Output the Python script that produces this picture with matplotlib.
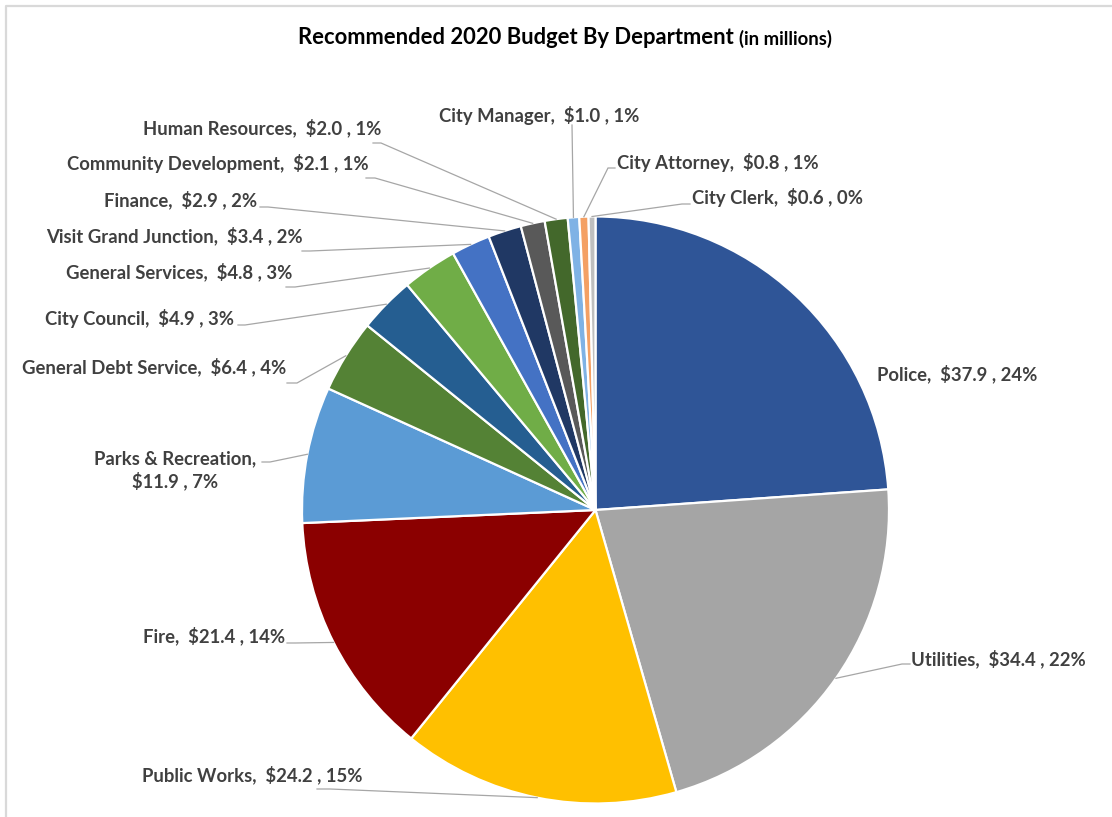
import numpy as np
import matplotlib.pyplot as plt

W, H = 1112, 817

# Budget by department, in millions of dollars
departments = ['Police', 'Utilities', 'Public Works', 'Fire', 'Parks & Recreation',
               'General Debt Service', 'City Council', 'General Services',
               'Visit Grand Junction', 'Finance', 'Community Development',
               'Human Resources', 'City Manager', 'City Attorney', 'City Clerk']
budget = [37.9, 34.4, 24.2, 21.4, 11.9, 6.4, 4.9, 4.8, 3.4, 2.9, 2.1, 2.0, 1.0, 0.8, 0.6]
share_pct = [24, 22, 15, 14, 7, 4, 3, 3, 2, 2, 1, 1, 1, 1, 0]

colors = ['#2F5597', '#A5A5A5', '#FFC000', '#8B0000', '#5B9BD5', '#548235', '#255E91',
          '#70AD47', '#4472C4', '#203864', '#595959', '#43682B', '#7FB2E5', '#F4A064',
          '#BFBFBF']

# label layout in pixels from the top-left: text x, text y, alignment,
# leader elbow point and leader tip (None -> no leader)
label_layout = [
    (877, 374, 'left', None, None),
    (911, 659, 'left', (902, 664), (910, 664)),
    (362, 775, 'right', (330, 789), (317, 789)),
    (285, 636, 'right', (295, 643), (287, 643)),
    (175, 470, 'center', (270, 462), (262, 462)),
    (286, 367, 'right', (297, 383), (287, 383)),
    (234, 318, 'right', (245, 325), (238, 325)),
    (292, 272, 'right', (295, 287), (286, 287)),
    (303, 236, 'right', (310, 251), (302, 251)),
    (257, 200, 'right', (268, 207), (260, 207)),
    (369, 163, 'right', (375, 178), (366, 178)),
    (381, 128, 'right', (381, 143), (373, 143)),
    (539, 115, 'center', (572, 125), (572, 125)),
    (617, 162, 'left', (608, 168), (615, 168)),
    (692, 197, 'left', (682, 204), (690, 204)),
]

cx, cy, r = 595.5, H - 510, 293.5

plt.rcParams['font.family'] = ['Lato', 'DejaVu Sans']
fig = plt.figure(figsize=(W / 100, H / 100), dpi=100)
ax = fig.add_axes([0, 0, 1, 1])

wedges, _ = ax.pie(budget, colors=colors, startangle=90, counterclock=False,
                   center=(cx, cy), radius=r,
                   wedgeprops=dict(edgecolor='white', linewidth=1.6))
ax.set_xlim(0, W)
ax.set_ylim(0, H)
ax.set_aspect('equal')
ax.axis('off')

text_color = '#404040'
for w, name, val, pct, (tx, ty, ha, elbow, tip) in zip(
        wedges, departments, budget, share_pct, label_layout):
    if name == 'Parks & Recreation':
        label = f'{name},\n${val:.1f} , {pct}%'
    else:
        label = f'{name},  ${val:.1f} , {pct}%'
    ax.text(tx, H - ty, label, ha=ha, va='center', fontsize=13.3, fontweight='bold',
            color=text_color, multialignment='center', linespacing=1.3)
    if elbow is None:
        continue
    mid = np.deg2rad((w.theta1 + w.theta2) / 2)
    ex, ey = cx + r * np.cos(mid), cy + r * np.sin(mid)
    ax.plot([ex, elbow[0], tip[0]], [ey, H - elbow[1], H - tip[1]],
            color='#A6A6A6', lw=0.9, solid_joinstyle='miter')

# title in two sizes
title = ax.text(298, H - 37, 'Recommended 2020 Budget By Department', ha='left',
                va='center', fontsize=15.8, fontweight='bold', color='black')
ax.annotate('(in millions)', xy=(1, 0), xycoords=title, xytext=(4, 0),
            textcoords='offset points', ha='left', va='bottom', fontsize=13.3,
            fontweight='bold', color='black')

# chart area frame
ax.plot([6, 6, W], [0, H - 6, H - 6], color='#D9D9D9', lw=1.6, clip_on=False)

fig.savefig('out.png', dpi=100)
